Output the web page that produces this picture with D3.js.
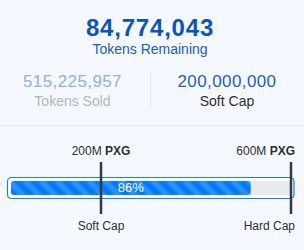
<!DOCTYPE html>
<html>
<head>
<meta charset="utf-8">
<script src="https://cdn.jsdelivr.net/npm/d3@7"></script>
<style>
  html, body { margin: 0; padding: 0; background: #f5f8fe; }
  svg { display: block; font-family: "Liberation Sans", Arial, sans-serif; }
</style>
</head>
<body>
<div id="chart"></div>
<script>
// Token sale figures
const tokensRemaining = 84774043;
const tokensSold = 515225957;
const caps = [
  { label: "Soft Cap", value: 200000000, tick: "200M" },
  { label: "Hard Cap", value: 600000000, tick: "600M" }
];
const unit = "PXG";

const width = 304;
const height = 250;
const fmt = d3.format(",");

const svg = d3.select("#chart")
  .append("svg")
  .attr("width", width)
  .attr("height", height);

svg.append("rect")
  .attr("width", width)
  .attr("height", height)
  .attr("fill", "#f5f8fe");

// Headline: tokens remaining
svg.append("text")
  .attr("x", 150).attr("y", 36)
  .attr("text-anchor", "middle")
  .style("font-size", "24px")
  .style("font-weight", "bold")
  .style("letter-spacing", "0.8px")
  .attr("fill", "#0b55b8")
  .text(fmt(tokensRemaining));

svg.append("text")
  .attr("x", 150).attr("y", 54)
  .attr("text-anchor", "middle")
  .style("font-size", "14px")
  .attr("fill", "#1c5cb8")
  .text("Tokens Remaining");

// Two stat columns
const stats = [
  { value: fmt(tokensSold), label: "Tokens Sold", cx: 72.5, vColor: "#8fb1e3", lColor: "#b1b5bd" },
  { value: fmt(caps[0].value), label: "Soft Cap", cx: 227, vColor: "#1e5ec4", lColor: "#2b2f36" }
];

const stat = svg.selectAll("g.stat")
  .data(stats)
  .enter()
  .append("g")
  .attr("class", "stat");

stat.append("text")
  .attr("x", d => d.cx).attr("y", 87)
  .attr("text-anchor", "middle")
  .style("font-size", "17px")
  .style("letter-spacing", "0.4px")
  .attr("fill", d => d.vColor)
  .text(d => d.value);

stat.append("text")
  .attr("x", d => d.cx).attr("y", 106)
  .attr("text-anchor", "middle")
  .style("font-size", "14px")
  .attr("fill", d => d.lColor)
  .text(d => d.label);

svg.append("line")
  .attr("x1", 150.5).attr("x2", 150.5)
  .attr("y1", 73).attr("y2", 110)
  .attr("stroke", "#e2e6ee");

svg.append("line")
  .attr("x1", 0).attr("x2", width)
  .attr("y1", 126).attr("y2", 126)
  .attr("stroke", "#e4e8ef");

// Progress bar
const x = d3.scaleLinear()
  .domain([0, caps[1].value])
  .range([6, 291]);

// diagonal stripes, 16px horizontal period, running top-left to bottom-right
const period = 16 / Math.SQRT2;
const pattern = svg.append("defs").append("pattern")
  .attr("id", "stripes")
  .attr("patternUnits", "userSpaceOnUse")
  .attr("width", period).attr("height", period)
  .attr("patternTransform", "rotate(-45)");
pattern.append("rect").attr("width", period).attr("height", period).attr("fill", "#007bff");
pattern.append("rect").attr("width", period / 2).attr("height", period).attr("fill", "#2a8fff");

svg.append("rect")
  .attr("x", 7.5).attr("y", 177.5)
  .attr("width", 286.5).attr("height", 21)
  .attr("rx", 4)
  .attr("fill", "#fafcff")
  .attr("stroke", "#1c7cec")
  .attr("stroke-width", 1.2);

svg.append("rect")
  .attr("x", 11).attr("y", 181)
  .attr("width", 279).attr("height", 14)
  .attr("rx", 3)
  .attr("fill", "#e8ebee");

svg.append("rect")
  .attr("x", 11).attr("y", 181)
  .attr("width", x(tokensSold) - 11).attr("height", 14)
  .attr("rx", 3)
  .attr("fill", "url(#stripes)");

svg.append("text")
  .attr("x", (11 + x(tokensSold)) / 2).attr("y", 192)
  .attr("text-anchor", "middle")
  .style("font-size", "13px")
  .attr("fill", "#fff")
  .text(Math.round(tokensSold / caps[1].value * 100) + "%");

// Cap markers
const marker = svg.selectAll("g.marker")
  .data(caps)
  .enter()
  .append("g")
  .attr("class", "marker");

marker.append("line")
  .attr("x1", d => x(d.value)).attr("x2", d => x(d.value))
  .attr("y1", 162).attr("y2", 214)
  .attr("stroke", "#343a40")
  .attr("stroke-width", 2.5);

const tickText = marker.append("text")
  .attr("x", (d, i) => i === caps.length - 1 ? 295 : x(d.value))
  .attr("y", 155)
  .attr("text-anchor", (d, i) => i === caps.length - 1 ? "end" : "middle")
  .style("font-size", "12px")
  .attr("fill", "#2b2f36");
tickText.append("tspan").text(d => d.tick + " ");
tickText.append("tspan").style("font-weight", "bold").text(unit);

marker.append("text")
  .attr("x", (d, i) => i === caps.length - 1 ? 295 : x(d.value))
  .attr("y", 230)
  .attr("text-anchor", (d, i) => i === caps.length - 1 ? "end" : "middle")
  .style("font-size", "12px")
  .attr("fill", "#2b2f36")
  .text(d => d.label);
</script>
</body>
</html>
